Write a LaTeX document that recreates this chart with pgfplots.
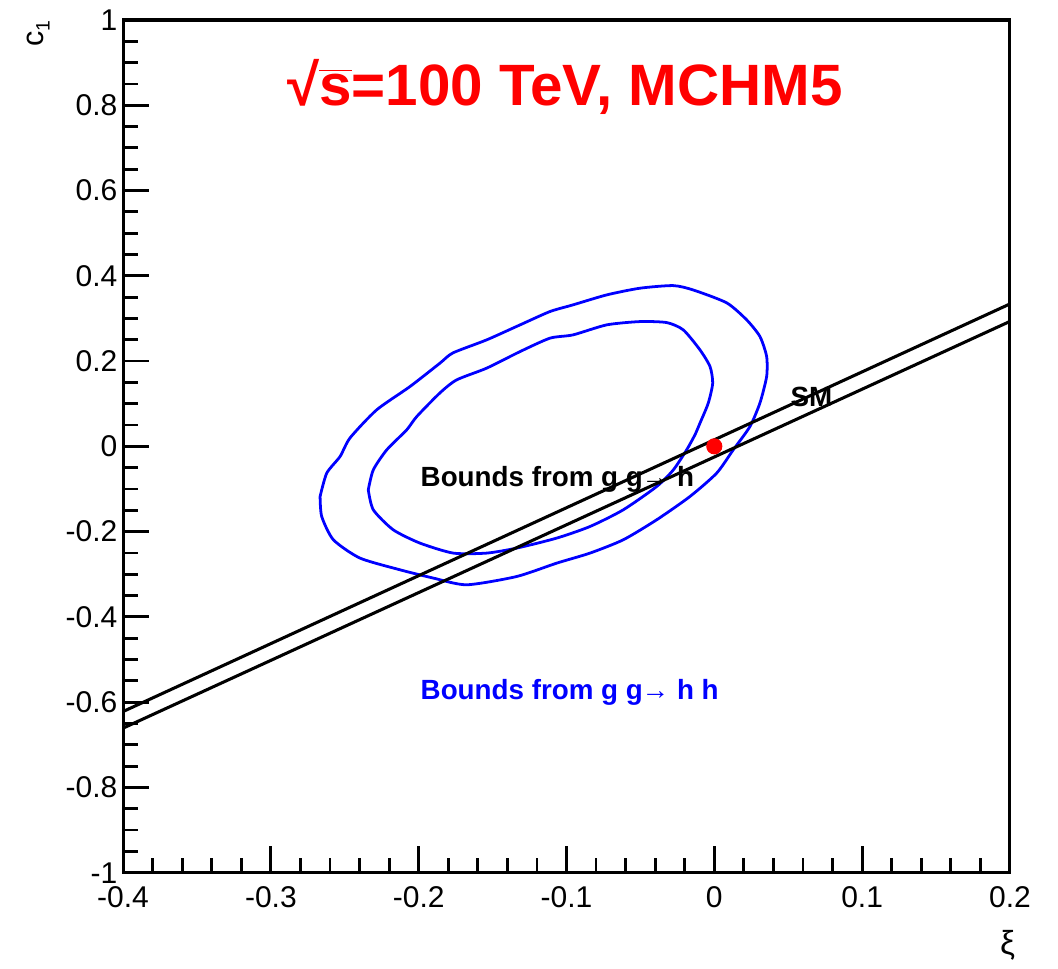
\documentclass[border=0pt]{standalone}
\usepackage{pgfplots}
\pgfplotsset{compat=1.18}
\usepackage{fontspec}
\setmainfont{Liberation Sans}
\begin{document}
\begin{tikzpicture}
\begin{axis}[
  name=ax,
  scale only axis,
  width=319.3pt, height=307pt,
  xmin=-0.4, xmax=0.2, ymin=-1, ymax=1,
  xtick={-0.4,-0.3,-0.2,-0.1,0,0.1,0.2},
  ytick={-1,-0.8,-0.6,-0.4,-0.2,0,0.2,0.4,0.6,0.8,1},
  scaled ticks=false,
  minor x tick num=4, minor y tick num=3,
  tick align=inside, tick pos=left,
  major tick length=9.5pt, minor tick length=5.3pt,
  axis line style={line width=1.1pt},
  every tick/.style={black, line width=1pt},
  /pgf/number format/assume math mode=true,
  ticklabel style={font=\fontsize{10.8}{12}\selectfont},
  xticklabel style={yshift=-1.5pt},
  yticklabel style={xshift=1.5pt},
  clip=true,
]
% outer contour
\addplot[blue, line width=1pt, line join=round, smooth, tension=0.4] coordinates {
(-0.2667,-0.1177) (-0.2622,-0.0628) (-0.2532,-0.0239) (-0.2464,0.0199)
(-0.2284,0.0856) (-0.2059,0.1402) (-0.1856,0.1951) (-0.1768,0.2192)
(-0.1540,0.2497) (-0.1314,0.2849) (-0.1112,0.3161) (-0.0956,0.3318)
(-0.0728,0.3552) (-0.0503,0.3709) (-0.0279,0.3770) (-0.0144,0.3669)
(0.0084,0.3365) (0.0219,0.2966) (0.0309,0.2574) (0.0354,0.2106)
(0.0354,0.1637) (0.0309,0.1020) (0.0241,0.0464)
(0.0128,-0.0082) (0.0016,-0.0628) (-0.0165,-0.1177) (-0.0390,-0.1723)
(-0.0616,-0.2192) (-0.0841,-0.2504) (-0.1066,-0.2739) (-0.1337,-0.3053)
(-0.1675,-0.3247) (-0.1901,-0.3090) (-0.2126,-0.2896) (-0.2397,-0.2621)
(-0.2577,-0.2192) (-0.2656,-0.1646) (-0.2667,-0.1177)
};
% inner contour
\addplot[blue, line width=1pt, line join=round, smooth, tension=0.4] coordinates {
(-0.2341,-0.1020) (-0.2307,-0.0551) (-0.2216,-0.0082) (-0.2081,0.0387)
(-0.2013,0.0699) (-0.1856,0.1254) (-0.1743,0.1559) (-0.1540,0.1834)
(-0.1314,0.2223) (-0.1112,0.2537) (-0.0956,0.2614) (-0.0728,0.2849)
(-0.0503,0.2926) (-0.0322,0.2903) (-0.0210,0.2732) (-0.0097,0.2263)
(-0.0029,0.1871) (-0.0011,0.1482) (-0.0041,0.1013) (-0.0097,0.0544)
(-0.0131,0.0270) (-0.0187,-0.0082) (-0.0277,-0.0551) (-0.0390,-0.0943)
(-0.0616,-0.1489) (-0.0841,-0.1880) (-0.1066,-0.2152) (-0.1337,-0.2387)
(-0.1540,-0.2504) (-0.1766,-0.2504) (-0.1991,-0.2270) (-0.2172,-0.1958)
(-0.2307,-0.1489) (-0.2341,-0.1020)
};
% SM lines
\addplot[black, line width=1.1pt] coordinates {(-0.4,-0.622) (0.2,0.334)};
\addplot[black, line width=1.1pt] coordinates {(-0.4,-0.661) (0.2,0.293)};
% SM point
\addplot[only marks, mark=*, mark size=2.7pt, red] coordinates {(0,0)};
\node[anchor=center, inner sep=0pt, text=red, font=\fontsize{21}{24}\selectfont\bfseries]
  at (axis cs:-0.101,0.843) {√$\overline{\mbox{s}}$=100 TeV, MCHM5};
\node[anchor=west, inner sep=0pt, font=\fontsize{10}{12}\selectfont\bfseries]
  at (axis cs:-0.199,-0.0785) {Bounds from g g\kern-0.5pt→ h};
\node[anchor=west, inner sep=0pt, font=\fontsize{10}{12}\selectfont\bfseries]
  at (axis cs:0.0512,0.116) {SM};
\node[anchor=west, inner sep=0pt, text=blue, font=\fontsize{10}{12}\selectfont\bfseries]
  at (axis cs:-0.199,-0.576) {Bounds from g g\kern-0.5pt→ h h};
\end{axis}
\node[rotate=90, anchor=north east, inner sep=0pt, font=\fontsize{11}{13}\selectfont]
  at ([xshift=-34.6pt]ax.north west) {c\raisebox{-0.35ex}{\fontsize{7}{8}\selectfont 1}};
\node[anchor=north east, inner sep=0pt, font=\fontsize{12}{14}\selectfont]
  at ([xshift=2pt,yshift=-20.5pt]ax.south east) {ξ};
\pgfresetboundingbox
\path ([xshift=-44.3pt,yshift=-34.6pt]ax.south west) rectangle ([xshift=17.3pt,yshift=7.2pt]ax.north east);
\end{tikzpicture}
\end{document}
